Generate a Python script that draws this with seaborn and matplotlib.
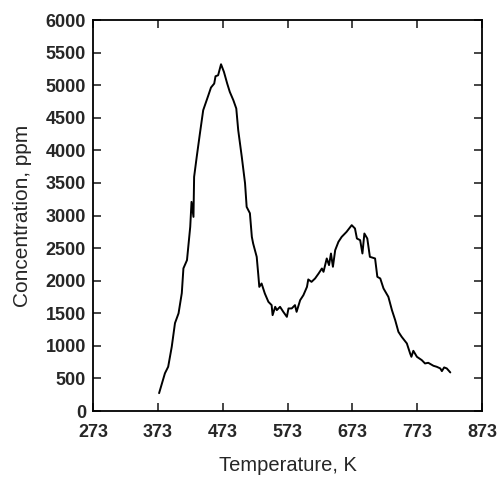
import numpy as np
import pandas as pd
import matplotlib
matplotlib.use("Agg")
import matplotlib.pyplot as plt
import seaborn as sns

# values
temperatura = [375, 384, 389, 394.5, 399.5, 405, 410, 412.5, 418, 423, 425, 428, 429,
               433, 438, 443, 451, 455, 460, 462, 466, 470.5, 475, 480, 484, 489.5,
               494, 497, 502.5, 507.5, 510, 515, 518, 520, 525.5, 528, 529.5, 533,
               538, 543.5, 548.5, 550, 554, 556.5, 561.5, 566.5, 572, 574.5, 579.5,
               584.5, 587, 592.5, 597.5, 603, 605, 610, 615.5, 621, 626, 628.5, 633.5,
               637, 640, 643, 646.5, 651.5, 656.5, 664, 672, 677, 680, 685, 688.5,
               691.5, 696, 700, 708, 711.5, 716, 721, 728.5, 734, 739, 744, 749, 757,
               762, 764, 767, 772.5, 780, 785, 790, 798, 803, 808.5, 811, 814.5,
               818.5, 824]
concentracion = [275, 580, 680, 986, 1350, 1500, 1810, 2190, 2316, 2827, 3210, 2980, 3594,
                 3900, 4264, 4617, 4847, 4965, 5026, 5138, 5153, 5322, 5204, 5026, 4898,
                 4770, 4643, 4310, 3900, 3497, 3133, 3036, 2673, 2572, 2367, 2086, 1906,
                 1958, 1805, 1677, 1626, 1472, 1600, 1549, 1600, 1523, 1446, 1575, 1575,
                 1626, 1523, 1702, 1779, 1906, 2020, 1983, 2035, 2112, 2188, 2137, 2342,
                 2240, 2418, 2214, 2469, 2597, 2673, 2750, 2853, 2802, 2648, 2623, 2418,
                 2725, 2648, 2367, 2342, 2060, 2035, 1882, 1753, 1549, 1396, 1216, 1140,
                 1038, 885, 833, 925, 833, 782, 731, 741, 695, 680, 655, 613, 670,
                 655, 593]

x_ticks = [273, 373, 473, 573, 673, 773, 873]
y_ticks = list(range(0, 6001, 500))

df = pd.DataFrame({'T': temperatura, 'C': concentracion})

sns.set_style('ticks')
plt.rcParams['font.family'] = ['Liberation Sans', 'DejaVu Sans']

fig = plt.figure(figsize=(4.97, 4.78), dpi=100)
ax = fig.add_axes([0.187, 0.140, 0.783, 0.818])

sns.lineplot(data=df, x='T', y='C', color='black', linewidth=1.4, ax=ax,
             estimator=None, sort=False)

ax.set_xlim(273, 873)
ax.set_ylim(0, 6000)
ax.set_xticks(x_ticks)
ax.set_yticks(y_ticks)
ax.tick_params(direction='in', length=6, width=1.2, top=True, right=True,
               labelsize=13)
ax.tick_params(axis='x', pad=9)
ax.tick_params(axis='y', pad=5)
for lab in ax.get_xticklabels() + ax.get_yticklabels():
    lab.set_fontweight('bold')
for s in ax.spines.values():
    s.set_linewidth(1.3)
    s.set_color('black')

ax.set_xlabel('Temperature, K', fontsize=14.5, labelpad=11)
ax.set_ylabel('Concentration, ppm', fontsize=15, labelpad=10)

fig.savefig('out.png', dpi=100)
